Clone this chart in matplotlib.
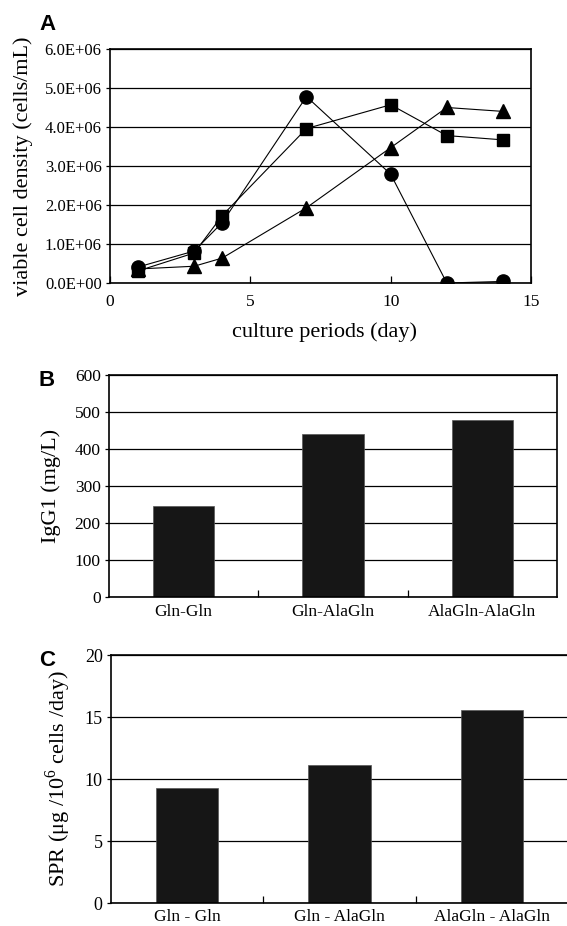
import matplotlib
matplotlib.use('Agg')
import matplotlib.pyplot as plt
import numpy as np


# panel A: viable cell density over culture time
days = [1, 3, 4, 7, 10, 12, 14]
vcd_circle = [0.41e6, 0.82e6, 1.55e6, 4.78e6, 2.79e6, 0.0, 0.04e6]
vcd_square = [0.31e6, 0.77e6, 1.73e6, 3.96e6, 4.57e6, 3.78e6, 3.67e6]
vcd_triangle = [0.36e6, 0.43e6, 0.64e6, 1.93e6, 3.47e6, 4.50e6, 4.40e6]
a_yticks = [0, 1e6, 2e6, 3e6, 4e6, 5e6, 6e6]
a_ytick_labels = ['0.0E+00', '1.0E+06', '2.0E+06', '3.0E+06',
                  '4.0E+06', '5.0E+06', '6.0E+06']
a_xticks = [0, 5, 10, 15]

# panel B: IgG1 titre
b_groups = ['Gln-Gln', 'Gln-AlaGln', 'AlaGln-AlaGln']
b_igg = [246, 441, 479]
b_yticks = [0, 100, 200, 300, 400, 500, 600]

# panel C: specific production rate
c_groups = ['Gln - Gln', 'Gln - AlaGln', 'AlaGln - AlaGln']
c_spr = [9.3, 11.15, 15.56]
c_yticks = [0, 5, 10, 15, 20]


plt.rcParams['font.family'] = ['Liberation Serif', 'DejaVu Serif']
plt.rcParams['mathtext.fontset'] = 'custom'
plt.rcParams['mathtext.rm'] = 'Liberation Serif'

W, H = 567, 926
fig = plt.figure(figsize=(W / 100, H / 100), dpi=100)


def box(l, t, r, b):
    #pixel box -> figure fraction
    return [l / W, 1 - b / H, (r - l) / W, (b - t) / H]


def style(ax):
    for s in ax.spines.values():
        s.set_linewidth(1.2)
        s.set_color('black')
    ax.yaxis.grid(True, color='black', linewidth=0.9)
    ax.set_axisbelow(True)
    ax.tick_params(axis='y', direction='out', length=3, width=0.9, pad=3)
    ax.tick_params(axis='x', direction='in', length=5, width=0.9)


#panel A
ax = fig.add_axes(box(110, 49, 531, 283))
style(ax)
ax.plot(days, vcd_circle, color='black', lw=0.8, marker='o', ms=9.5)
ax.plot(days, vcd_square, color='black', lw=0.8, marker='s', ms=8.5)
ax.plot(days, vcd_triangle, color='black', lw=0.8, marker='^', ms=10)
ax.set_xlim(0, 15)
ax.set_ylim(0, 6e6)
ax.set_xticks(a_xticks)
ax.set_yticks(a_yticks)
ax.set_yticklabels(a_ytick_labels)
ax.tick_params(axis='y', labelsize=12)
ax.tick_params(axis='x', labelsize=12.5, pad=8)
ax.set_xlabel('culture periods (day)', fontsize=16, va='center')
ax.xaxis.set_label_coords(0.51, -0.209)
ax.set_ylabel('viable cell density (cells/mL)', fontsize=16, va='center')
ax.yaxis.set_label_coords(-0.207, 0.5)
fig.text(39 / W, 1 - 25 / H, 'A', family='Liberation Sans', weight='bold',
         fontsize=16, va='center', ha='left')

#panel B
bx = fig.add_axes(box(109, 375, 557, 597))
style(bx)
xb = np.arange(len(b_groups))
bx.bar(xb, b_igg, width=0.41, color='#161616', edgecolor='#555555', linewidth=0.5)
bx.set_xlim(-0.5, len(b_groups) - 0.5)
bx.set_ylim(0, 600)
bx.set_yticks(b_yticks)
bx.set_xticks(xb[:-1] + 0.5)
bx.set_xticklabels([])
bx.set_xticks(xb, minor=True)
bx.set_xticklabels(b_groups, minor=True)
bx.tick_params(axis='x', which='minor', length=0, labelsize=12.5, pad=5)
bx.tick_params(axis='y', labelsize=12.5)
bx.set_ylabel('IgG1 (mg/L)', fontsize=16, va='center')
bx.yaxis.set_label_coords(-0.129, 0.5)
fig.text(39 / W, 1 - 380 / H, 'B', family='Liberation Sans', weight='bold',
         fontsize=16, va='center', ha='left')

#panel C
cx = fig.add_axes(box(111, 655, 568, 903))
style(cx)
xc = np.arange(len(c_groups))
cx.bar(xc, c_spr, width=0.41, color='#161616', edgecolor='#555555', linewidth=0.5)
cx.set_xlim(-0.5, len(c_groups) - 0.5)
cx.set_ylim(0, 20)
cx.set_yticks(c_yticks)
cx.set_xticks(xc[:-1] + 0.5)
cx.set_xticklabels([])
cx.set_xticks(xc, minor=True)
cx.set_xticklabels(c_groups, minor=True)
cx.tick_params(axis='x', which='minor', length=0, labelsize=12.5, pad=4)
cx.tick_params(axis='y', labelsize=13)
cx.set_ylabel('SPR (μg /10$^{6}$ cells /day)', fontsize=16, va='center')
cx.yaxis.set_label_coords(-0.116, 0.5)
fig.text(39 / W, 1 - 660 / H, 'C', family='Liberation Sans', weight='bold',
         fontsize=16, va='center', ha='left')

fig.savefig('out.png', dpi=100)
